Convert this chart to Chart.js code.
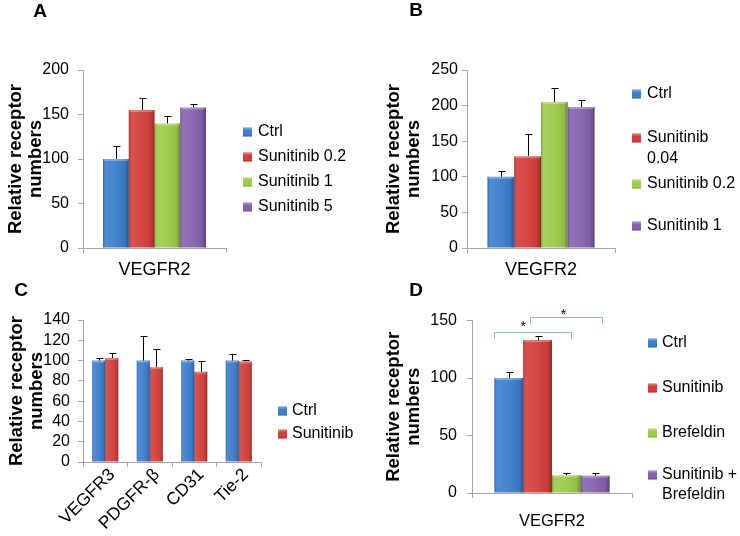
<!DOCTYPE html>
<html><head><meta charset="utf-8">
<script src="https://cdn.jsdelivr.net/npm/chart.js@4.4.1/dist/chart.umd.min.js"></script>
<style>
html,body{margin:0;padding:0;background:#fff;}
#wrap{position:relative;width:740px;height:536px;overflow:hidden;background:#fff;}
canvas{position:absolute;}
</style></head><body>
<div id="wrap">
<canvas id="cA" width="370" height="285" style="left:0px;top:0px"></canvas>
<canvas id="cB" width="370" height="285" style="left:370px;top:0px"></canvas>
<canvas id="cC" width="370" height="266" style="left:0px;top:270px"></canvas>
<canvas id="cD" width="370" height="266" style="left:370px;top:270px"></canvas>
</div>
<script>
// ---------- DATA ----------
const yTitle = ['Relative receptor', 'numbers'];

// Panel A
const catsA = ['VEGFR2'];
const seriesA = ['Ctrl', 'Sunitinib 0.2', 'Sunitinib 1', 'Sunitinib 5'];
const valuesA = [100, 155, 140, 158];
const errA = [14.5, 13.5, 8, 4];
const yTicksA = [0, 200, 50];

// Panel B
const catsB = ['VEGFR2'];
const seriesB = ['Ctrl', 'Sunitinib 0.04', 'Sunitinib 0.2', 'Sunitinib 1'];
const legendB = [['Ctrl'], ['Sunitinib', '0.04'], ['Sunitinib 0.2'], ['Sunitinib 1']];
const valuesB = [100, 129, 205, 198];
const errB = [8, 31, 20, 10];
const yTicksB = [0, 250, 50];

// Panel C
const catsC = ['VEGFR3', 'PDGFR-\u03B2', 'CD31', 'Tie-2'];
const seriesC = ['Ctrl', 'Sunitinib'];
const ctrlC = [100, 100, 100, 100];
const ctrlErrC = [3, 24, 2, 6];
const sunC = [102.5, 93.5, 89, 99];
const sunErrC = [4.5, 17.5, 11, 2];
const yTicksC = [0, 140, 20];

// Panel D
const catsD = ['VEGFR2'];
const seriesD = ['Ctrl', 'Sunitinib', 'Brefeldin', 'Sunitinib + Brefeldin'];
const legendD = [['Ctrl'], ['Sunitinib'], ['Brefeldin'], ['Sunitinib +', 'Brefeldin']];
const valuesD = [100, 133, 15.5, 15];
const errD = [5, 3.5, 2, 2.5];
const yTicksD = [0, 150, 50];
// significance brackets: [fromSeries, toSeries, bracketValue, legValue, starValue, label]
const sigD = [[0, 2, 140, 134, 148, '*'], [1, 3, 153, 147, 158, '*']];

// ---------- STYLE ----------
const FONT = "'Liberation Sans', Arial, Helvetica, sans-serif";
const COLORS = ['#3D7ECE', '#D43F3A', '#9DCB49', '#8562B0'];
const AXIS = '#A6A6A6';

const shadePlugin = {
  id: 'shade',
  afterDatasetsDraw(chart) {
    const ctx = chart.ctx;
    const ys = chart.scales.y;
    chart.data.datasets.forEach((ds, di) => {
      const meta = chart.getDatasetMeta(di);
      meta.data.forEach((el, i) => {
        const p = el.getProps(['x', 'y', 'base', 'width'], true);
        const l = p.x - p.width / 2;
        ctx.save();
        const g = ctx.createLinearGradient(l, 0, l + p.width, 0);
        g.addColorStop(0, 'rgba(0,0,0,0.20)');
        g.addColorStop(0.1, 'rgba(255,255,255,0.10)');
        g.addColorStop(0.45, 'rgba(255,255,255,0.05)');
        g.addColorStop(0.85, 'rgba(0,0,0,0.06)');
        g.addColorStop(1, 'rgba(0,0,0,0.32)');
        ctx.fillStyle = g;
        ctx.fillRect(l, p.y, p.width, p.base - p.y);
        ctx.fillStyle = 'rgba(255,255,255,0.28)';
        ctx.fillRect(l + 1, p.y, p.width - 2, 2);
        const e = ds.err ? ds.err[i] : 0;
        if (e) {
          const ye = Math.round(ys.getPixelForValue(ds.data[i] + e)) + 0.5;
          const x = Math.round(p.x) + 0.5;
          ctx.strokeStyle = '#000';
          ctx.lineWidth = 1;
          ctx.beginPath();
          ctx.moveTo(x, p.y);
          ctx.lineTo(x, ye);
          ctx.moveTo(x - 3, ye);
          ctx.lineTo(x + 4, ye);
          ctx.stroke();
        }
        ctx.restore();
      });
    });
  }
};

const decorPlugin = {
  id: 'decor',
  afterDraw(chart, args, o) {
    const ctx = chart.ctx;
    ctx.save();
    ctx.setTransform(1, 0, 0, 1, 0, 0);
    ctx.fillStyle = '#000';
    ctx.font = 'bold 19px ' + FONT;
    ctx.textAlign = 'center';
    ctx.textBaseline = 'middle';
    ctx.fillText(o.letter, o.letterX, o.letterY);
    // rotated category labels, placed at the x scale's own tick positions
    if (o.rotLabels) {
      const xs = chart.scales.x;
      ctx.font = o.rotLabels.size + 'px ' + FONT;
      ctx.textAlign = 'right';
      ctx.textBaseline = 'middle';
      chart.data.labels.forEach((lab, i) => {
        ctx.save();
        ctx.translate(xs.getPixelForTick(i) + o.rotLabels.dx, xs.top + o.rotLabels.dy);
        ctx.rotate(-Math.PI / 4);
        ctx.fillText(lab, 0, 0);
        ctx.restore();
      });
    }
    ctx.font = '16px ' + FONT;
    ctx.textAlign = 'left';
    ctx.textBaseline = 'middle';
    o.legend.forEach((lines, i) => {
      const y = o.rows[i];
      const col = chart.data.datasets[i].backgroundColor;
      ctx.fillStyle = col;
      ctx.fillRect(o.sqX, y - 4.5, 9, 9);
      ctx.fillStyle = 'rgba(255,255,255,0.25)';
      ctx.fillRect(o.sqX, y - 4.5, 9, 2);
      ctx.fillStyle = 'rgba(0,0,0,0.2)';
      ctx.fillRect(o.sqX, y + 3.5, 9, 1);
      ctx.fillStyle = '#000';
      lines.forEach((t, k) => ctx.fillText(t, o.textX, y + k * (o.lineH || 20)));
    });
    if (o.sig) {
      const ys = chart.scales.y;
      const bar = (di) => chart.getDatasetMeta(di).data[0].getProps(['x', 'width'], true);
      o.sig.forEach((s, k) => {
        const a = bar(s[0]), b = bar(s[1]);
        const f = o.sigFrac[k];
        const x1 = Math.round(a.x + f[0] * a.width) + 0.5, x2 = Math.round(b.x + f[1] * b.width) + 0.5;
        const yb = Math.round(ys.getPixelForValue(s[2])) + 0.5;
        const yl = ys.getPixelForValue(s[3]);
        ctx.strokeStyle = '#8EB4E3';
        ctx.lineWidth = 1;
        ctx.beginPath();
        ctx.moveTo(x1, yl); ctx.lineTo(x1, yb); ctx.lineTo(x2, yb); ctx.lineTo(x2, yl);
        ctx.stroke();
        const sx = bar(f[2]).x + f[3] * bar(f[2]).width;
        ctx.fillStyle = '#000';
        ctx.font = '14px ' + FONT;
        ctx.textAlign = 'center';
        ctx.textBaseline = 'alphabetic';
        ctx.fillText(s[5], sx, ys.getPixelForValue(s[4]) + 8);
      });
    }
    ctx.restore();
  }
};

function makeChart(id, cats, datasets, yt, p) {
  return new Chart(document.getElementById(id), {
    type: 'bar',
    data: { labels: cats, datasets: datasets },
    plugins: [shadePlugin, decorPlugin],
    options: {
      responsive: false,
      animation: false,
      devicePixelRatio: 1,
      layout: { padding: { left: 0, top: p.top, right: p.right, bottom: 0 } },
      datasets: { bar: { categoryPercentage: p.catPct, barPercentage: 1, borderWidth: 0 } },
      plugins: {
        legend: { display: false },
        tooltip: { enabled: false },
        decor: p.decor
      },
      scales: {
        x: {
          type: 'category',
          offset: true,
          grid: { offset: true, drawOnChartArea: false, drawTicks: true, tickLength: 5, color: AXIS },
          border: { color: AXIS },
          ticks: { display: !p.ownLabels, color: '#000', font: { family: FONT, size: p.xSize }, padding: p.xPad,
                   minRotation: 0, maxRotation: 0, autoSkip: false },
          afterFit: s => { s.height = p.xH; }
        },
        y: {
          min: yt[0], max: yt[1],
          grid: { drawOnChartArea: false, drawTicks: true, tickLength: 5, color: AXIS },
          border: { color: AXIS },
          ticks: { stepSize: yt[2], autoSkip: false, maxTicksLimit: 20, color: '#000',
                   font: { family: FONT, size: 16, lineHeight: 1 }, padding: p.yPad },
          title: { display: true, text: yTitle, color: '#000',
                   font: { family: FONT, size: 18.5, weight: 'bold', lineHeight: 1.08 },
                   padding: { top: p.titlePad, bottom: 0 } },
          afterFit: s => { s.width = p.yW; }
        }
      }
    }
  });
}

const mk = (names, vals, errs) => names.map((n, i) => ({
  label: n, data: [vals[i]], err: [errs[i]], backgroundColor: COLORS[i]
}));

makeChart('cA', catsA, mk(seriesA, valuesA, errA), yTicksA, {
  top: 70, right: 144, catPct: 0.72, xSize: 18, xPad: 6, xH: 37, yPad: 9, titlePad: 6, yW: 83,
  decor: { letter: 'A', letterX: 40, letterY: 12, legend: seriesA.map(s => [s]),
           rows: [132, 157, 182, 207], sqX: 243, textX: 258 }
});
makeChart('cB', catsB, mk(seriesB, valuesB, errB), yTicksB, {
  top: 70, right: 125, catPct: 0.723, xSize: 18, xPad: 6, xH: 37, yPad: 4, titlePad: 14, yW: 97,
  decor: { letter: 'B', letterX: 46, letterY: 11, legend: legendB,
           rows: [94, 138, 184, 226], sqX: 262, textX: 277, lineH: 21 }
});
makeChart('cC', catsC, [
  { label: seriesC[0], data: ctrlC, err: ctrlErrC, backgroundColor: COLORS[0] },
  { label: seriesC[1], data: sunC, err: sunErrC, backgroundColor: COLORS[1] }
], yTicksC, {
  top: 50, right: 109, catPct: 0.585, xSize: 17, xPad: 6, xH: 74, yPad: 8, titlePad: 7, yW: 83, ownLabels: true,
  decor: { letter: 'C', letterX: 21, letterY: 21, legend: seriesC.map(s => [s]),
           rows: [141, 164], sqX: 278, textX: 292, rotLabels: { size: 17.5, dx: 7, dy: 10 } }
});
makeChart('cD', catsD, mk(seriesD, valuesD, errD), yTicksD, {
  top: 50.5, right: 108, catPct: 0.72, xSize: 16.5, xPad: 14, xH: 43, yPad: 10, titlePad: 14, yW: 102,
  decor: { letter: 'D', letterX: 46, letterY: 21, legend: legendD,
           rows: [73, 118, 163, 205], sqX: 278, textX: 292, lineH: 20,
           sig: sigD, sigFrac: [[-0.5, 0.15, 0, 0.5], [-0.25, 0.25, 2, -0.1]] }
});
</script>
</body></html>
